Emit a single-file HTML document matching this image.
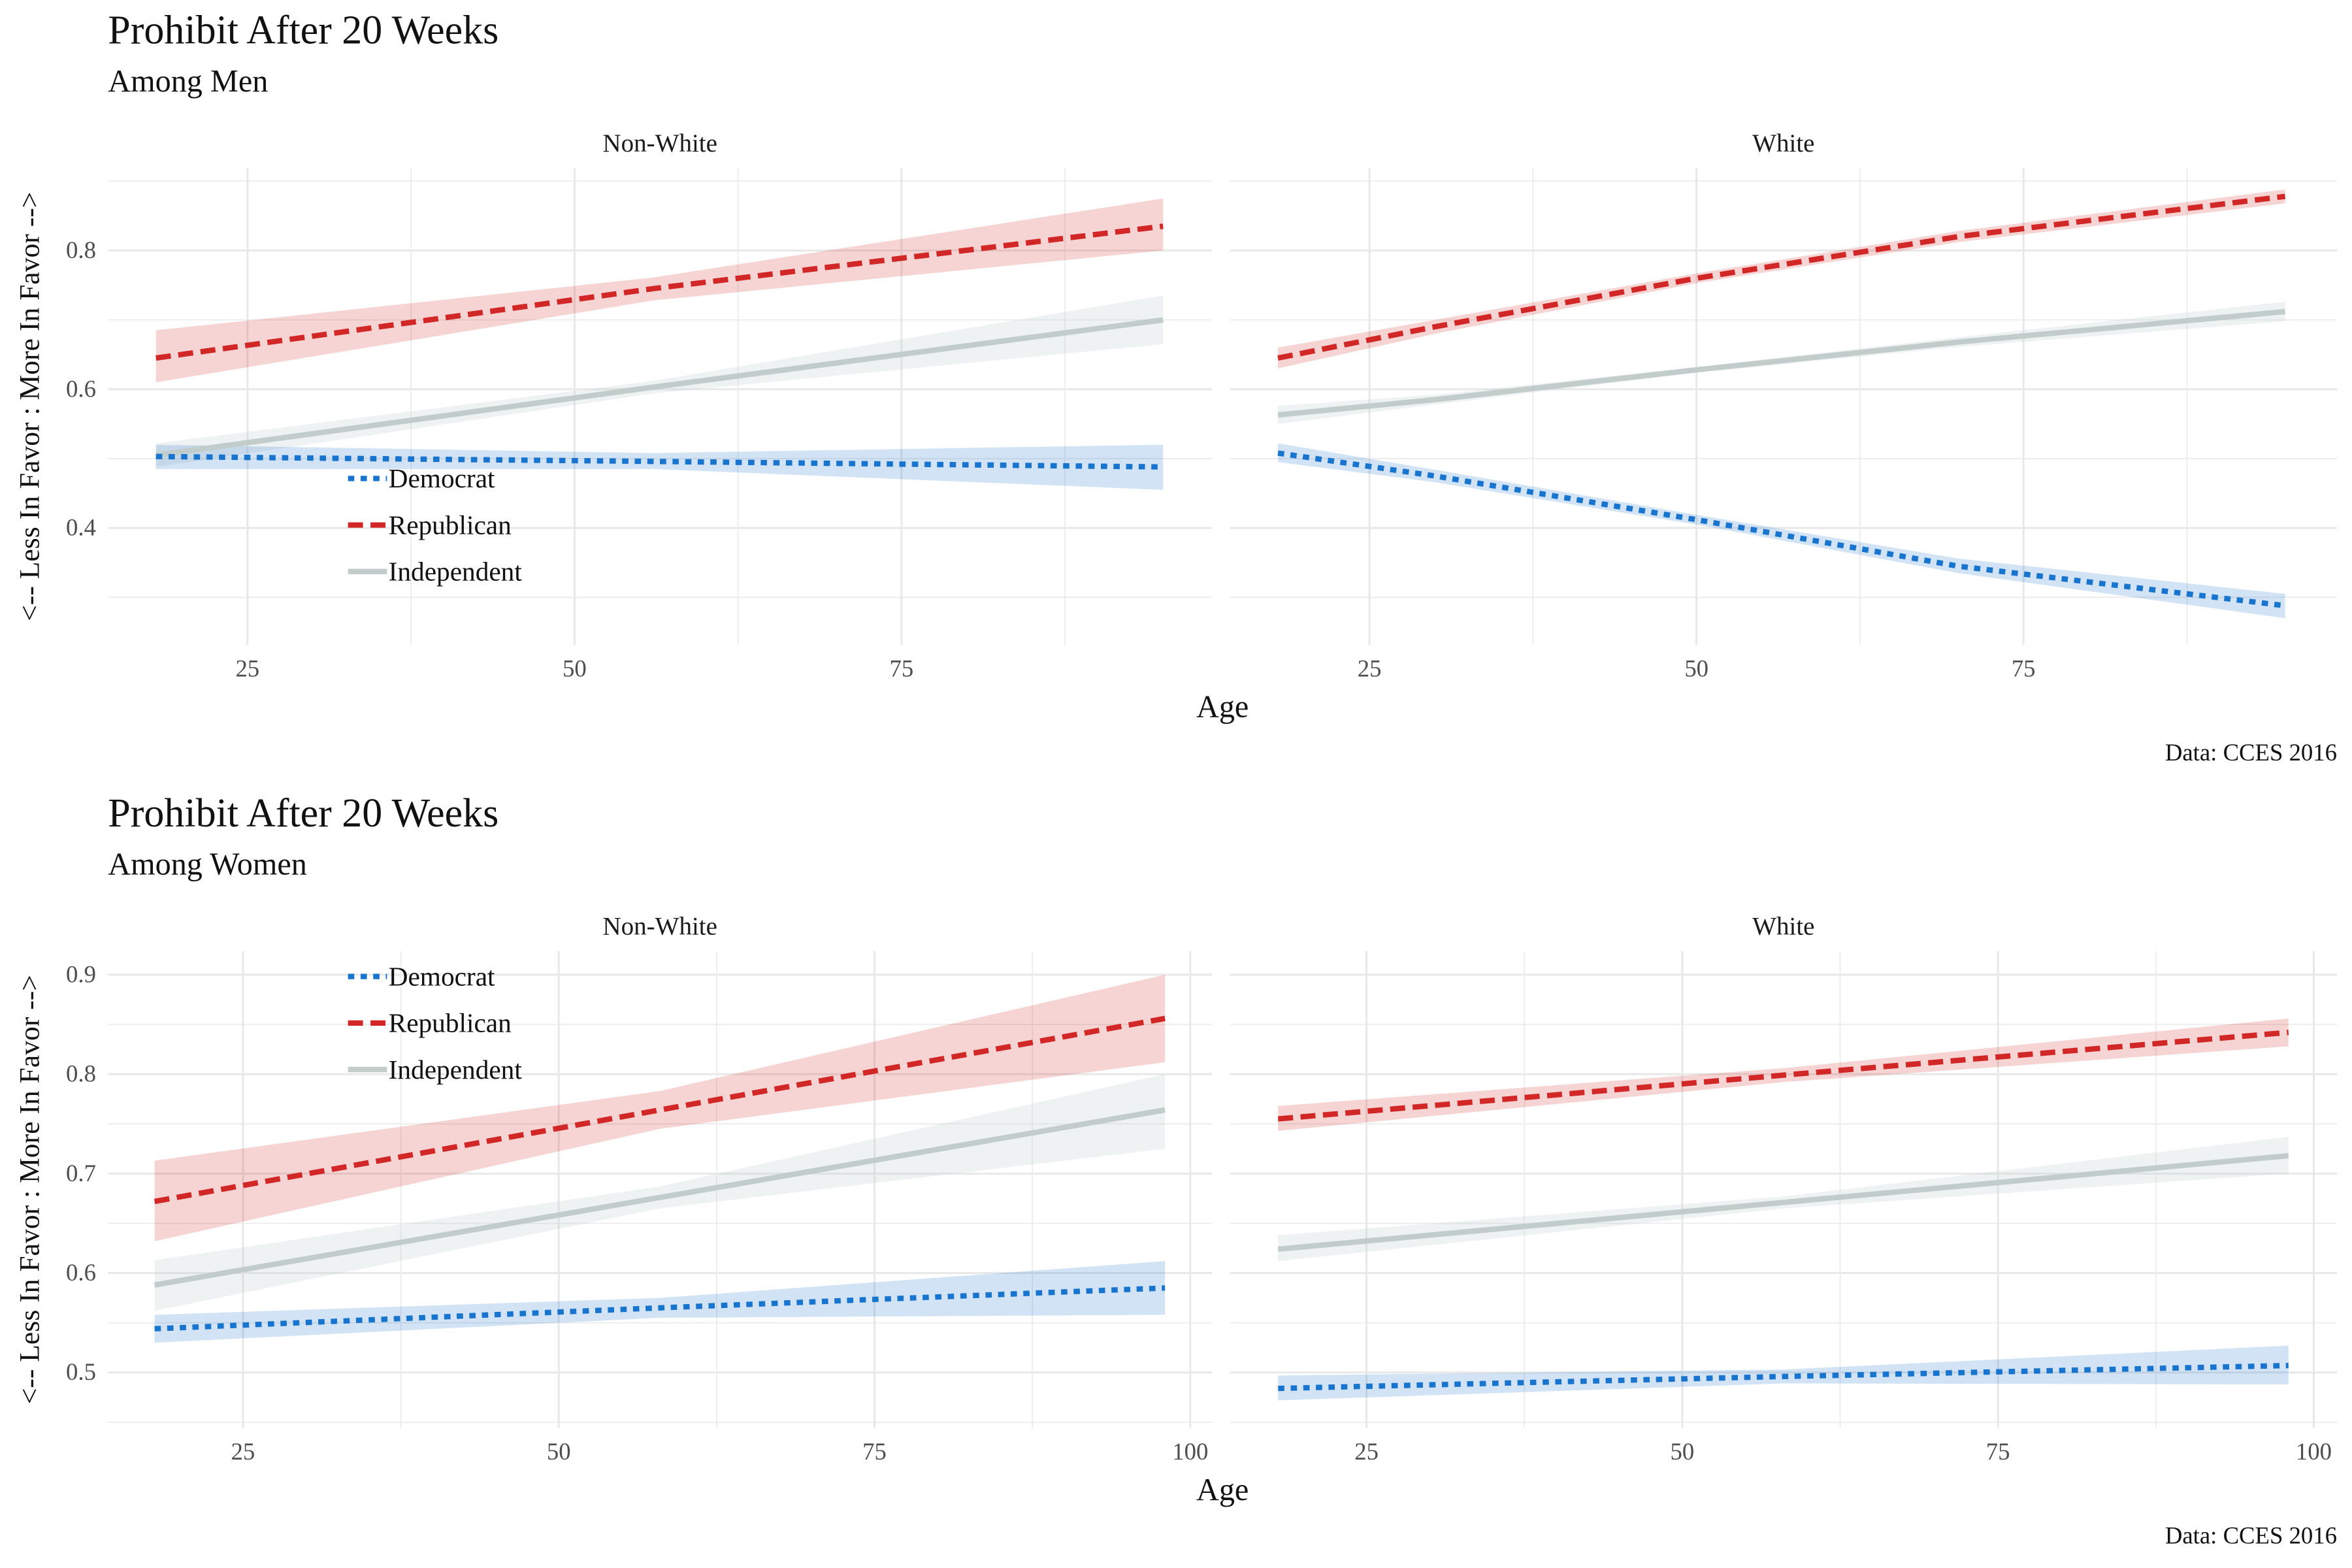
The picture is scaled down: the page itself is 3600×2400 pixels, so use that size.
<!DOCTYPE html>
<html><head><meta charset="utf-8">
<style>
html,body{margin:0;padding:0;background:#fff;}
svg{display:block;}
text{font-family:"Liberation Serif",serif;}
</style></head>
<body>
<svg id="chart" width="3600" height="2400" viewBox="0 0 1568 1045.33" preserveAspectRatio="none" xmlns="http://www.w3.org/2000/svg">
<g id="root"></g>
</svg>
<script>
// ---- data ----
const partyNames = ["Democrat", "Republican", "Independent"];
// Men, Non-White
const menNwAges = [18, 56, 95];
const menNwDemFit = [0.503, 0.496, 0.488];
const menNwDemLo = [0.485, 0.485, 0.455];
const menNwDemHi = [0.520, 0.508, 0.520];
const menNwRepFit = [0.645, 0.745, 0.835];
const menNwRepLo = [0.610, 0.728, 0.800];
const menNwRepHi = [0.685, 0.761, 0.875];
const menNwIndFit = [0.505, 0.603, 0.700];
const menNwIndLo = [0.488, 0.594, 0.665];
const menNwIndHi = [0.522, 0.612, 0.735];
// Men, White
const menWAges = [18, 30, 50, 70, 95];
const menWDemFit = [0.508, 0.475, 0.412, 0.345, 0.288];
const menWDemLo = [0.495, 0.466, 0.405, 0.335, 0.270];
const menWDemHi = [0.522, 0.484, 0.419, 0.356, 0.305];
const menWRepFit = [0.645, 0.690, 0.760, 0.820, 0.878];
const menWRepLo = [0.630, 0.680, 0.753, 0.812, 0.868];
const menWRepHi = [0.660, 0.700, 0.767, 0.828, 0.888];
const menWIndFit = [0.563, 0.585, 0.628, 0.668, 0.712];
const menWIndLo = [0.550, 0.578, 0.624, 0.661, 0.698];
const menWIndHi = [0.576, 0.592, 0.632, 0.675, 0.726];
// Women, Non-White
const womNwAges = [18, 58, 98];
const womNwDemFit = [0.544, 0.565, 0.585];
const womNwDemLo = [0.530, 0.555, 0.558];
const womNwDemHi = [0.558, 0.575, 0.612];
const womNwRepFit = [0.672, 0.764, 0.856];
const womNwRepLo = [0.632, 0.745, 0.812];
const womNwRepHi = [0.713, 0.783, 0.900];
const womNwIndFit = [0.588, 0.676, 0.764];
const womNwIndLo = [0.562, 0.665, 0.725];
const womNwIndHi = [0.613, 0.687, 0.800];
// Women, White
const womWAges = [18, 58, 98];
const womWDemFit = [0.484, 0.496, 0.507];
const womWDemLo = [0.472, 0.489, 0.488];
const womWDemHi = [0.497, 0.503, 0.527];
const womWRepFit = [0.755, 0.799, 0.842];
const womWRepLo = [0.743, 0.792, 0.828];
const womWRepHi = [0.768, 0.806, 0.856];
const womWIndFit = [0.624, 0.671, 0.718];
const womWIndLo = [0.612, 0.665, 0.700];
const womWIndHi = [0.638, 0.677, 0.737];
// ticks
const menYTicks = ["0.4", "0.6", "0.8"];
const menYMinor = [0.3, 0.5, 0.7, 0.9];
const menXTicks = ["25", "50", "75"];
const womYTicks = ["0.5", "0.6", "0.7", "0.8", "0.9"];
const womYMinor = [0.45, 0.55, 0.65, 0.75, 0.85];
const womXTicks = ["25", "50", "75", "100"];
const stripLabels = ["Non-White", "White"];

// ---- drawing ----
const NS = "http://www.w3.org/2000/svg";
const root = document.getElementById("root");
function mk(tag, attrs, parent, txt) {
  const e = document.createElementNS(NS, tag);
  for (const k in attrs) e.setAttribute(k, attrs[k]);
  if (txt !== undefined) e.textContent = txt;
  (parent || root).appendChild(e);
  return e;
}
const styles = {
  Democrat: {c: "#1874cd", dash: "4.2,4.2", band: "#1874cd", op: 0.2},
  Republican: {c: "#d12727", dash: "10,5", band: "#d12727", op: 0.2},
  Independent: {c: "#c1cccb", dash: "none", band: "#c1cccb", op: 0.25}
};

function drawPlot(cfg) {
  const g = mk("g", {}, root);
  
  
  let t = mk("text", {x: 72, y: cfg.titleY, "font-size": 27, fill: "#111"}, g, "Prohibit After 20 Weeks");
  
  
  t = mk("text", {x: 72, y: cfg.titleY + 32, "font-size": 21, fill: "#111"}, g, cfg.subtitle);
  
  
  const yScale = v => cfg.y0 - (v - cfg.v0) * cfg.ky;
  cfg.panels.forEach((p, pi) => {
    const pg = mk("g", {}, g);
    
    
    const xScale = a => p.xOff + a * cfg.kx;
    cfg.yMinor.forEach(v => {
      const l = mk("line", {x1: p.left, x2: p.right, y1: yScale(v), y2: yScale(v), stroke: "#ececec", "stroke-width": 0.8}, pg);
      
      
    });
    cfg.yTicks.forEach(s => {
      const v = parseFloat(s);
      const l = mk("line", {x1: p.left, x2: p.right, y1: yScale(v), y2: yScale(v), stroke: "#e8e8e8", "stroke-width": 1.3}, pg);
      
      
      if (pi === 0) {
        const tl = mk("text", {x: 64, y: yScale(v) + 5, "font-size": 16, fill: "#4d4d4d", "text-anchor": "end"}, pg, s);
        
        
      }
    });
    cfg.xTicks.forEach((s, i) => {
      const v = parseFloat(s);
      const l = mk("line", {x1: xScale(v), x2: xScale(v), y1: cfg.gTop, y2: cfg.gBot, stroke: "#e8e8e8", "stroke-width": 1.3}, pg);
      
      
      const mv = v + 12.5;
      if (xScale(mv) < p.right) {
        const m = mk("line", {x1: xScale(mv), x2: xScale(mv), y1: cfg.gTop, y2: cfg.gBot, stroke: "#ececec", "stroke-width": 0.8}, pg);
        
        
      }
      if (i === 0 && xScale(v - 12.5) > p.left) {
        const m = mk("line", {x1: xScale(v - 12.5), x2: xScale(v - 12.5), y1: cfg.gTop, y2: cfg.gBot, stroke: "#ececec", "stroke-width": 0.8}, pg);
        
        
      }
      const tl = mk("text", {x: xScale(v), y: cfg.gBot + 21, "font-size": 16, fill: "#4d4d4d", "text-anchor": "middle"}, pg, s);
      
      
    });
    const st = mk("text", {x: (p.left + p.right) / 2, y: cfg.stripY, "font-size": 17, fill: "#1a1a1a", "text-anchor": "middle"}, pg, stripLabels[pi]);
    
    
    p.series.forEach(s => {
      const sty = styles[s.party];
      let d = "";
      s.ages.forEach((a, i) => d += (i ? "L" : "M") + xScale(a) + "," + yScale(s.hi[i]));
      for (let i = s.ages.length - 1; i >= 0; i--) d += "L" + xScale(s.ages[i]) + "," + yScale(s.lo[i]);
      const band = mk("path", {d: d + "Z", fill: sty.band, "fill-opacity": sty.op, stroke: "none"}, pg);
      
      
    });
    p.series.forEach(s => {
      const sty = styles[s.party];
      const pts = s.ages.map((a, i) => xScale(a) + "," + yScale(s.fit[i])).join(" ");
      const ln = mk("polyline", {points: pts, fill: "none", stroke: sty.c, "stroke-width": 3.6, "stroke-dasharray": sty.dash}, pg);
      
      
    });
  });
  const lg = mk("g", {}, g);
  
  
  partyNames.forEach((n, i) => {
    const y = cfg.legY + i * 31;
    const sty = styles[n];
    const l = mk("line", {x1: 232, x2: 258, y1: y, y2: y, stroke: sty.c, "stroke-width": 3.6, "stroke-dasharray": sty.dash}, lg);
    
    
    const tx = mk("text", {x: 259, y: y + 6, "font-size": 18, fill: "#111"}, lg, n);
    
    
  });
  t = mk("text", {x: 815, y: cfg.gBot + 48, "font-size": 21, fill: "#111", "text-anchor": "middle"}, g, "Age");
  
  
  const yc = (cfg.gTop + cfg.gBot) / 2;
  t = mk("text", {x: 0, y: 0, "font-size": 19, fill: "#111", "text-anchor": "middle", transform: "translate(26," + yc + ") rotate(-90)"}, g, "<-- Less In Favor : More In Favor -->");
  
  
  t = mk("text", {x: 1558, y: cfg.gBot + 77, "font-size": 16, fill: "#111", "text-anchor": "end"}, g, "Data: CCES 2016");
  
  
}

function ser(party, ages, fit, lo, hi) { return {party, ages, fit, lo, hi}; }

drawPlot({
  name: "men-plot", subtitle: "Among Men", titleY: 29, stripY: 101,
  y0: 167, v0: 0.8, ky: 462.5, kx: 8.72, gTop: 112, gBot: 430,
  yTicks: menYTicks, yMinor: menYMinor, xTicks: menXTicks, legY: 319,
  panels: [
    {left: 72, right: 808, xOff: -53, series: [
      ser("Independent", menNwAges, menNwIndFit, menNwIndLo, menNwIndHi),
      ser("Republican", menNwAges, menNwRepFit, menNwRepLo, menNwRepHi),
      ser("Democrat", menNwAges, menNwDemFit, menNwDemLo, menNwDemHi)]},
    {left: 820, right: 1558, xOff: 695, series: [
      ser("Independent", menWAges, menWIndFit, menWIndLo, menWIndHi),
      ser("Republican", menWAges, menWRepFit, menWRepLo, menWRepHi),
      ser("Democrat", menWAges, menWDemFit, menWDemLo, menWDemHi)]}
  ]
});
drawPlot({
  name: "women-plot", subtitle: "Among Women", titleY: 551, stripY: 623,
  y0: 915, v0: 0.5, ky: 663, kx: 8.42, gTop: 634, gBot: 952,
  yTicks: womYTicks, yMinor: womYMinor, xTicks: womXTicks, legY: 651,
  panels: [
    {left: 72, right: 808, xOff: -48.5, series: [
      ser("Independent", womNwAges, womNwIndFit, womNwIndLo, womNwIndHi),
      ser("Republican", womNwAges, womNwRepFit, womNwRepLo, womNwRepHi),
      ser("Democrat", womNwAges, womNwDemFit, womNwDemLo, womNwDemHi)]},
    {left: 820, right: 1558, xOff: 700.5, series: [
      ser("Independent", womWAges, womWIndFit, womWIndLo, womWIndHi),
      ser("Republican", womWAges, womWRepFit, womWRepLo, womWRepHi),
      ser("Democrat", womWAges, womWDemFit, womWDemLo, womWDemHi)]}
  ]
});
</script>
</body></html>
